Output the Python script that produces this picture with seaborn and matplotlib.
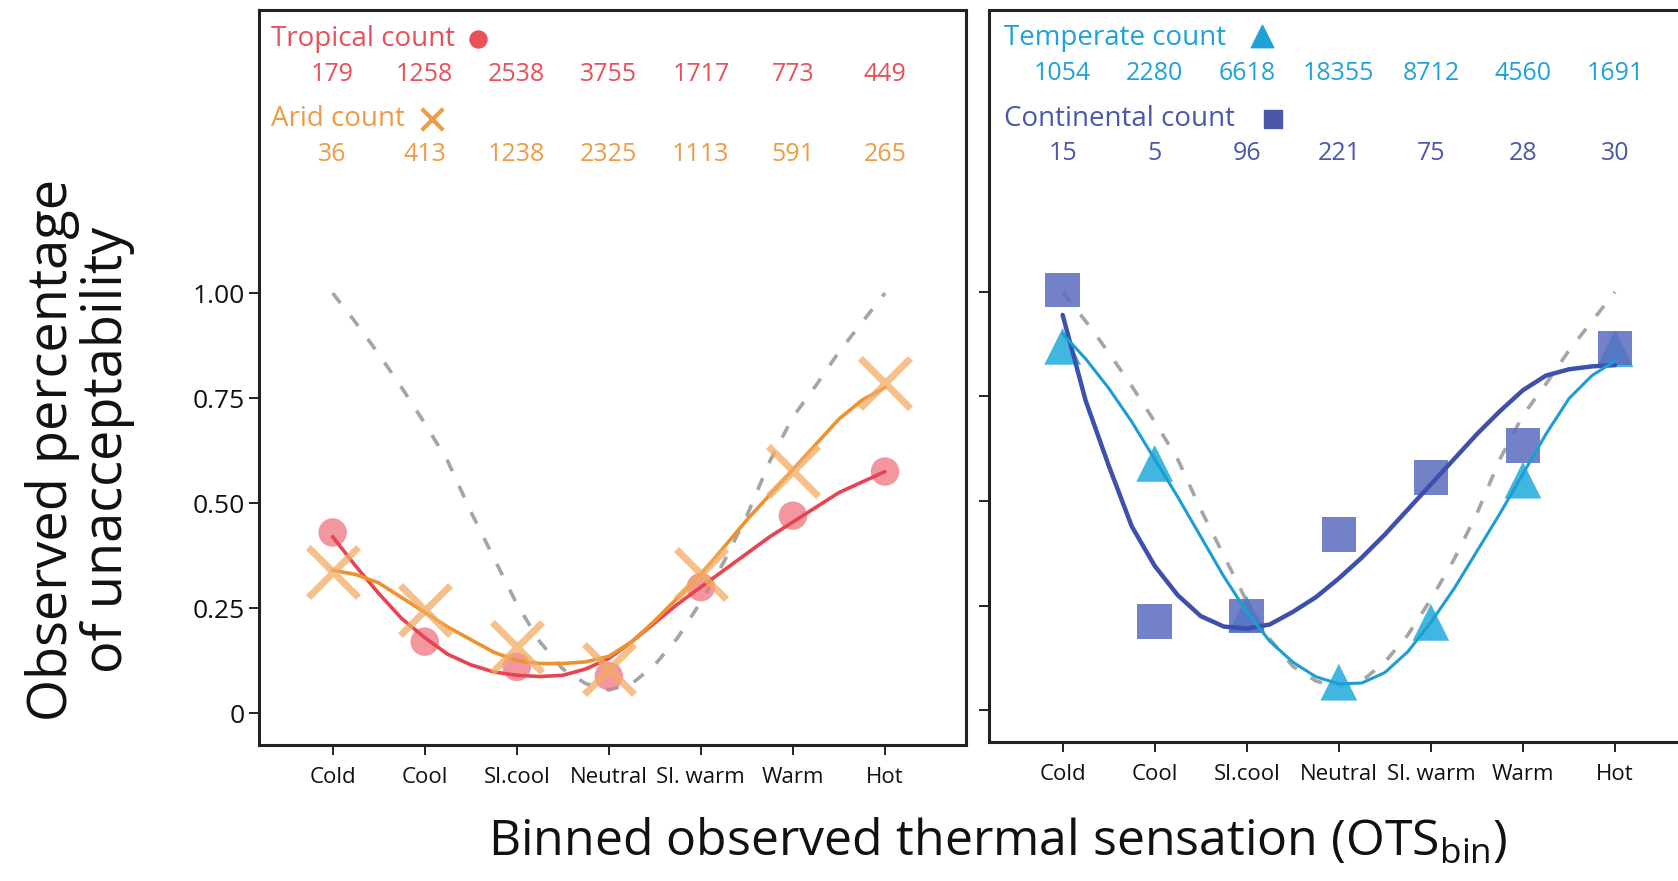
import numpy as np
import pandas as pd
import matplotlib
matplotlib.use("Agg")
import matplotlib.pyplot as plt
import seaborn as sns

# ---------------- data ----------------
categories = ["Cold", "Cool", "Sl.cool", "Neutral", "Sl. warm", "Warm", "Hot"]
cat_pos = [0, 1, 2, 3, 4, 5, 6]

tropical_obs = [0.43, 0.17, 0.11, 0.088, 0.30, 0.47, 0.575]
arid_obs = [0.335, 0.245, 0.157, 0.105, 0.33, 0.576, 0.785]
temperate_obs = [0.87, 0.59, 0.23, 0.067, 0.21, 0.55, 0.864]
continental_obs = [1.005, 0.212, 0.225, 0.42, 0.557, 0.633, 0.866]

tropical_count = [179, 1258, 2538, 3755, 1717, 773, 449]
arid_count = [36, 413, 1238, 2325, 1113, 591, 265]
temperate_count = [1054, 2280, 6618, 18355, 8712, 4560, 1691]
continental_count = [15, 5, 96, 221, 75, 28, 30]

fit_pos = [0, 0.25, 0.5, 0.75, 1, 1.25, 1.5, 1.75, 2, 2.25, 2.5, 2.75, 3,
           3.25, 3.5, 3.75, 4, 4.25, 4.5, 4.75, 5, 5.25, 5.5, 5.75, 6]
tropical_fit = [0.42, 0.35, 0.285, 0.225, 0.18, 0.14, 0.115, 0.098, 0.09, 0.087,
                0.09, 0.105, 0.13, 0.17, 0.215, 0.26, 0.30, 0.34, 0.38, 0.42,
                0.455, 0.49, 0.525, 0.55, 0.575]
arid_fit = [0.34, 0.33, 0.31, 0.275, 0.24, 0.205, 0.175, 0.145, 0.125, 0.118,
            0.118, 0.122, 0.135, 0.17, 0.22, 0.275, 0.33, 0.395, 0.46, 0.52,
            0.58, 0.64, 0.70, 0.745, 0.775]
temperate_fit = [0.90, 0.84, 0.77, 0.69, 0.60, 0.51, 0.415, 0.32, 0.235, 0.165,
                 0.115, 0.08, 0.063, 0.065, 0.09, 0.14, 0.21, 0.29, 0.38, 0.47,
                 0.565, 0.66, 0.745, 0.80, 0.835]
continental_fit = [0.945, 0.74, 0.585, 0.44, 0.345, 0.275, 0.225, 0.20, 0.195, 0.205,
                   0.235, 0.27, 0.315, 0.365, 0.42, 0.48, 0.54, 0.60, 0.66, 0.715,
                   0.765, 0.80, 0.815, 0.822, 0.825]
reference_fit = [1.0, 0.93, 0.855, 0.775, 0.69, 0.60, 0.48, 0.37, 0.26, 0.17,
                 0.105, 0.07, 0.055, 0.07, 0.115, 0.18, 0.265, 0.36, 0.47, 0.60,
                 0.705, 0.78, 0.86, 0.93, 1.0]

ytick_vals = [0, 0.25, 0.50, 0.75, 1.00]
ytick_labels = ["0", "0.25", "0.50", "0.75", "1.00"]

# ---------------- style ----------------
sns.set_theme(style="white")
plt.rcParams["font.family"] = ["Open Sans", "DejaVu Sans"]
plt.rcParams["mathtext.fontset"] = "custom"
plt.rcParams["mathtext.rm"] = "Open Sans"
plt.rcParams["mathtext.it"] = "Open Sans"

C_TROP_TXT = "#E8505A"
C_TROP_LINE = "#E8434F"
C_TROP_MK = "#EE7480"
C_ARID_TXT = "#EE9B45"
C_ARID_LINE = "#EE922F"
C_ARID_MK = "#F2AB62"
C_TEMP_TXT = "#1FA2D8"
C_TEMP_LINE = "#1C9ED4"
C_TEMP_MK = "#36B2E0"
C_CONT_TXT = "#4B57A8"
C_CONT_LINE = "#3E50AE"
C_CONT_MK = "#5B6CBE"
C_REF = "#A5A5A5"

W, H = 1678, 881
fig = plt.figure(figsize=(W / 100, H / 100), dpi=100)
axL = fig.add_axes([259 / W, 136 / H, 707 / W, 735 / H])
axR = fig.add_axes([989 / W, 139 / H, 707 / W, 732 / H])

df_fit = pd.DataFrame({"x": fit_pos, "trop": tropical_fit, "arid": arid_fit,
                       "temp": temperate_fit, "cont": continental_fit,
                       "ref": reference_fit})
df_obs = pd.DataFrame({"x": cat_pos, "trop": tropical_obs, "arid": arid_obs,
                       "temp": temperate_obs, "cont": continental_obs})

for ax in (axL, axR):
    ax.plot(df_fit["x"], df_fit["ref"], color=C_REF, lw=2.6,
            dashes=(3.5, 4.5), zorder=1)

# left panel
sns.lineplot(data=df_fit, x="x", y="trop", ax=axL, color=C_TROP_LINE, lw=2.6, zorder=3)
sns.lineplot(data=df_fit, x="x", y="arid", ax=axL, color=C_ARID_LINE, lw=2.6, zorder=3)
sns.scatterplot(data=df_obs, x="x", y="trop", ax=axL, color=C_TROP_MK, s=420,
                marker="o", alpha=0.75, edgecolor="none", zorder=2)
sns.scatterplot(data=df_obs, x="x", y="arid", ax=axL, color=C_ARID_MK, s=1300,
                marker="x", alpha=0.75, linewidth=5, zorder=4)

# right panel
sns.lineplot(data=df_fit, x="x", y="cont", ax=axR, color=C_CONT_LINE, lw=3.2, zorder=3)
sns.lineplot(data=df_fit, x="x", y="temp", ax=axR, color=C_TEMP_LINE, lw=2.2, zorder=3)
sns.scatterplot(data=df_obs, x="x", y="temp", ax=axR, color=C_TEMP_MK, s=700,
                marker="^", alpha=0.95, edgecolor="none", zorder=2)
sns.scatterplot(data=df_obs, x="x", y="cont", ax=axR, color=C_CONT_MK, s=620,
                marker="s", alpha=0.85, edgecolor="none", zorder=2)

for ax in (axL, axR):
    ax.set_xlim(-0.8, 6.88)
    ax.set_ylim(-0.076, 1.674)
    ax.set_xticks(cat_pos)
    ax.set_xticklabels(categories, fontsize=16, color="#111111")
    ax.set_yticks(ytick_vals)
    ax.set_xlabel("")
    ax.set_ylabel("")
    ax.tick_params(axis="both", direction="out", length=7, width=1.4,
                   color="#222222", bottom=True, left=True)
    ax.tick_params(axis="x", pad=9)
    for sp in ax.spines.values():
        sp.set_color("#222222")
        sp.set_linewidth(2.2)
    ax.grid(False)
    ax.set_facecolor("white")

axL.set_yticklabels(ytick_labels, fontsize=19, color="#111111")
axR.set_yticklabels([])
axR.spines["right"].set_visible(False)

# count annotations
y_title1, y_row1, y_title2, y_row2 = 1.606, 1.521, 1.414, 1.331
fs_title = 20
fs_num = 18

axL.text(-0.67, y_title1, "Tropical count", color=C_TROP_TXT, fontsize=fs_title,
         ha="left", va="center")
axL.scatter([1.58], [y_title1], s=150, color=C_TROP_TXT, marker="o", clip_on=False)
for xp, c in zip(cat_pos, tropical_count):
    axL.text(xp, y_row1, str(c), color=C_TROP_TXT, fontsize=fs_num, ha="center", va="center")
axL.text(-0.67, y_title2, "Arid count", color=C_ARID_TXT, fontsize=fs_title,
         ha="left", va="center")
axL.scatter([1.08], [y_title2], s=240, color=C_ARID_TXT, marker="x", linewidth=3)
for xp, c in zip(cat_pos, arid_count):
    axL.text(xp, y_row2, str(c), color=C_ARID_TXT, fontsize=fs_num, ha="center", va="center")

axR.text(-0.64, y_title1, "Temperate count", color=C_TEMP_TXT, fontsize=fs_title,
         ha="left", va="center")
axR.scatter([2.17], [y_title1 + 0.005], s=260, color=C_TEMP_TXT, marker="^")
for xp, c in zip(cat_pos, temperate_count):
    axR.text(xp, y_row1, str(c), color=C_TEMP_TXT, fontsize=fs_num, ha="center", va="center")
axR.text(-0.64, y_title2, "Continental count", color=C_CONT_TXT, fontsize=fs_title,
         ha="left", va="center")
axR.scatter([2.29], [y_title2], s=170, color=C_CONT_TXT, marker="s")
for xp, c in zip(cat_pos, continental_count):
    axR.text(xp, y_row2, str(c), color=C_CONT_TXT, fontsize=fs_num, ha="center", va="center")

# axis titles
fig.text(80 / W, 1 - 450 / H, "Observed percentage\nof unacceptability",
         rotation=90, ha="center", va="center", fontsize=39, color="#111111",
         linespacing=1.0)
fig.text(998 / W, 1 - 843 / H,
         r"Binned observed thermal sensation (OTS$_{\mathrm{bin}}$)",
         ha="center", va="center", fontsize=36, color="#111111")

fig.savefig("out.png", dpi=100, facecolor="white")
